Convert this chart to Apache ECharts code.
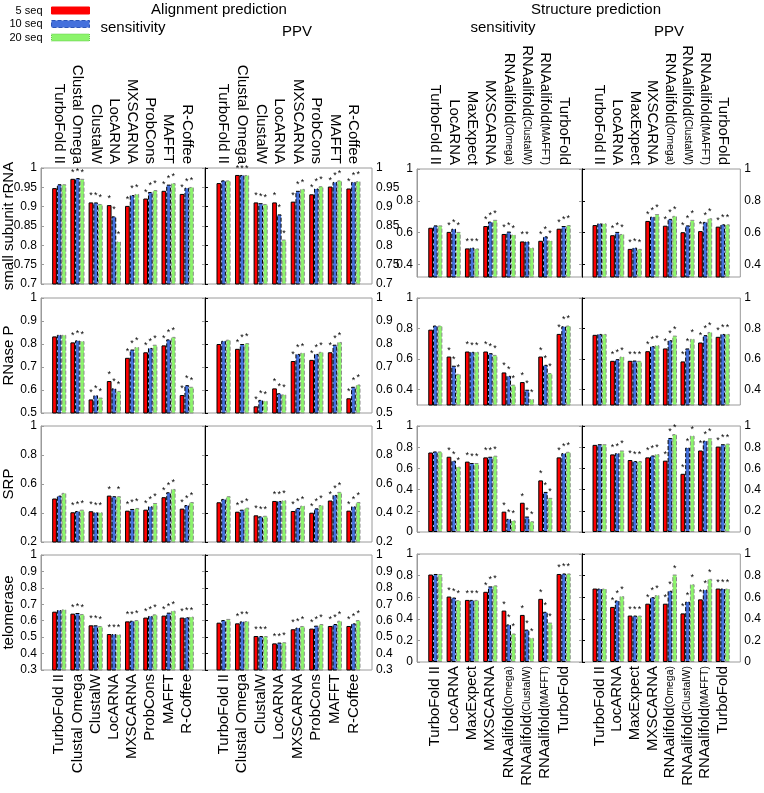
<!DOCTYPE html>
<html><head><meta charset="utf-8">
<script src="https://cdn.jsdelivr.net/npm/echarts@6/dist/echarts.min.js"></script>
<style>html,body{margin:0;padding:0;background:#fff}#c{width:764px;height:793px}</style>
</head><body><div id="c"></div>
<script>
// ---------- categories / labels ----------
const alignCats = ['TurboFold II','Clustal Omega','ClustalW','LocARNA','MXSCARNA','ProbCons','MAFFT','R-Coffee'];
const structCats = ['TurboFold II','LocARNA','MaxExpect','MXSCARNA','RNAalifold(Omega)','RNAalifold(ClustalW)','RNAalifold(MAFFT)','TurboFold'];
const rowNames = ['small subunit rRNA','RNase P','SRP','telomerase'];
const seqNames = ['5 seq','10 seq','20 seq'];

// ---------- Alignment prediction: sensitivity ----------
const alnSens_ssu_5  = [0.948,0.972,0.911,0.904,0.902,0.921,0.941,0.933];
const alnSens_ssu_10 = [0.958,0.974,0.911,0.875,0.930,0.938,0.957,0.949];
const alnSens_ssu_20 = [0.958,0.972,0.907,0.810,0.933,0.943,0.961,0.951];
const alnSens_rnp_5  = [0.833,0.807,0.559,0.639,0.740,0.764,0.794,0.578];
const alnSens_rnp_10 = [0.840,0.816,0.577,0.607,0.776,0.783,0.820,0.621];
const alnSens_rnp_20 = [0.840,0.813,0.567,0.596,0.787,0.797,0.831,0.614];
const alnSens_srp_5  = [0.500,0.405,0.412,0.520,0.416,0.423,0.509,0.430];
const alnSens_srp_10 = [0.520,0.414,0.405,0.516,0.428,0.446,0.543,0.455];
const alnSens_srp_20 = [0.539,0.423,0.405,0.516,0.435,0.469,0.566,0.476];
const alnSens_tel_5  = [0.655,0.643,0.572,0.519,0.596,0.619,0.631,0.619];
const alnSens_tel_10 = [0.665,0.647,0.572,0.519,0.600,0.629,0.649,0.621];
const alnSens_tel_20 = [0.669,0.641,0.568,0.517,0.604,0.639,0.661,0.625];
// ---------- Alignment prediction: PPV ----------
const alnPPV_ssu_5  = [0.961,0.982,0.911,0.911,0.913,0.932,0.952,0.947];
const alnPPV_ssu_10 = [0.968,0.982,0.909,0.880,0.941,0.947,0.964,0.964];
const alnPPV_ssu_20 = [0.968,0.982,0.907,0.815,0.946,0.953,0.968,0.966];
const alnPPV_rnp_5  = [0.800,0.779,0.529,0.607,0.726,0.731,0.764,0.564];
const alnPPV_rnp_10 = [0.814,0.800,0.557,0.586,0.757,0.757,0.797,0.614];
const alnPPV_rnp_20 = [0.819,0.804,0.553,0.581,0.762,0.766,0.809,0.624];
const alnPPV_srp_5  = [0.474,0.409,0.384,0.483,0.414,0.402,0.486,0.416];
const alnPPV_srp_10 = [0.497,0.423,0.377,0.483,0.435,0.432,0.525,0.446];
const alnPPV_srp_20 = [0.516,0.437,0.381,0.488,0.451,0.455,0.546,0.476];
const alnPPV_tel_5  = [0.588,0.584,0.507,0.462,0.548,0.552,0.568,0.568];
const alnPPV_tel_10 = [0.604,0.596,0.507,0.467,0.558,0.570,0.580,0.584];
const alnPPV_tel_20 = [0.611,0.598,0.507,0.469,0.568,0.580,0.600,0.604];
// ---------- Structure prediction: sensitivity ----------
const strSens_ssu_5  = [0.630,0.604,0.500,0.641,0.591,0.544,0.548,0.624];
const strSens_ssu_10 = [0.645,0.624,0.505,0.669,0.606,0.544,0.576,0.641];
const strSens_ssu_20 = [0.645,0.604,0.500,0.680,0.587,0.505,0.550,0.647];
const strSens_rnp_5  = [0.793,0.617,0.650,0.650,0.513,0.450,0.617,0.765];
const strSens_rnp_10 = [0.820,0.557,0.648,0.639,0.491,0.400,0.563,0.815];
const strSens_rnp_20 = [0.820,0.504,0.648,0.628,0.433,0.339,0.509,0.820];
const strSens_srp_5  = [0.750,0.710,0.664,0.704,0.192,0.276,0.487,0.704];
const strSens_srp_10 = [0.760,0.673,0.651,0.710,0.124,0.146,0.378,0.744];
const strSens_srp_20 = [0.760,0.617,0.651,0.720,0.109,0.102,0.322,0.757];
const strSens_tel_5  = [0.810,0.606,0.575,0.650,0.476,0.436,0.585,0.815];
const strSens_tel_10 = [0.815,0.597,0.575,0.700,0.348,0.300,0.465,0.820];
const strSens_tel_20 = [0.815,0.573,0.575,0.710,0.264,0.224,0.365,0.820];
// ---------- Structure prediction: PPV ----------
const strPPV_ssu_5  = [0.647,0.583,0.497,0.673,0.643,0.602,0.609,0.637];
const strPPV_ssu_10 = [0.658,0.604,0.505,0.700,0.686,0.645,0.667,0.652];
const strPPV_ssu_20 = [0.658,0.591,0.497,0.716,0.705,0.680,0.690,0.652];
const strPPV_rnp_5  = [0.759,0.589,0.589,0.652,0.670,0.585,0.709,0.746];
const strPPV_rnp_10 = [0.765,0.600,0.591,0.685,0.724,0.670,0.757,0.765];
const strPPV_rnp_20 = [0.765,0.617,0.589,0.691,0.754,0.733,0.778,0.765];
const strPPV_srp_5  = [0.822,0.732,0.679,0.704,0.673,0.549,0.769,0.806];
const strPPV_srp_10 = [0.828,0.744,0.670,0.722,0.887,0.797,0.862,0.828];
const strPPV_srp_20 = [0.828,0.769,0.670,0.735,0.924,0.909,0.884,0.834];
const strPPV_tel_5  = [0.680,0.510,0.430,0.540,0.540,0.450,0.580,0.680];
const strPPV_tel_10 = [0.680,0.570,0.430,0.600,0.660,0.560,0.670,0.680];
const strPPV_tel_20 = [0.680,0.610,0.430,0.620,0.810,0.720,0.770,0.680];

// ---------- significance stars (per category: 5/10/20 seq) ----------
const starsAln = ['000','111','111','111','111','111','111','111'];
const starsAlnSrpSens = ['000','111','111','101','111','111','111','111'];
const starsStrSsuSens = ['000','111','111','111','111','110','111','111'];
const starsStrSsuPPV  = ['000','111','111','111','111','111','111','111'];
const starsStr = ['000','111','111','111','111','111','111','111'];

// ---------- assemble ----------
const panels = [
  {b:0,p:0,r:0,d:[alnSens_ssu_5,alnSens_ssu_10,alnSens_ssu_20],s:starsAln},
  {b:0,p:1,r:0,d:[alnPPV_ssu_5,alnPPV_ssu_10,alnPPV_ssu_20],s:starsAln},
  {b:0,p:0,r:1,d:[alnSens_rnp_5,alnSens_rnp_10,alnSens_rnp_20],s:starsAln},
  {b:0,p:1,r:1,d:[alnPPV_rnp_5,alnPPV_rnp_10,alnPPV_rnp_20],s:starsAln},
  {b:0,p:0,r:2,d:[alnSens_srp_5,alnSens_srp_10,alnSens_srp_20],s:starsAlnSrpSens},
  {b:0,p:1,r:2,d:[alnPPV_srp_5,alnPPV_srp_10,alnPPV_srp_20],s:starsAln},
  {b:0,p:0,r:3,d:[alnSens_tel_5,alnSens_tel_10,alnSens_tel_20],s:starsAln},
  {b:0,p:1,r:3,d:[alnPPV_tel_5,alnPPV_tel_10,alnPPV_tel_20],s:starsAln},
  {b:1,p:0,r:0,d:[strSens_ssu_5,strSens_ssu_10,strSens_ssu_20],s:starsStrSsuSens},
  {b:1,p:1,r:0,d:[strPPV_ssu_5,strPPV_ssu_10,strPPV_ssu_20],s:starsStrSsuPPV},
  {b:1,p:0,r:1,d:[strSens_rnp_5,strSens_rnp_10,strSens_rnp_20],s:starsStr},
  {b:1,p:1,r:1,d:[strPPV_rnp_5,strPPV_rnp_10,strPPV_rnp_20],s:starsStr},
  {b:1,p:0,r:2,d:[strSens_srp_5,strSens_srp_10,strSens_srp_20],s:starsStr},
  {b:1,p:1,r:2,d:[strPPV_srp_5,strPPV_srp_10,strPPV_srp_20],s:starsStr},
  {b:1,p:0,r:3,d:[strSens_tel_5,strSens_tel_10,strSens_tel_20],s:starsStr},
  {b:1,p:1,r:3,d:[strPPV_tel_5,strPPV_tel_10,strPPV_tel_20],s:starsStr}
];

const colX = [[[41,205],[205,372]],[[417,582],[582,746]]];
const rowY = [[[168,284],[298,413],[426,542],[555,670]],[[169,277],[298,405],[426,532],[554,662]]];
const yCfg = [
  [{min:0.7,max:1,interval:0.05},{min:0.5,max:1,interval:0.1},{min:0.2,max:1,interval:0.2},{min:0.3,max:1,interval:0.1}],
  [{min:0.32,max:1,cv:[0.4,0.6,0.8,1]},{min:0.3,max:1,cv:[0.4,0.6,0.8,1]},{min:0,max:1,interval:0.2},{min:0,max:1,interval:0.2}]
];
const FONT = 'Liberation Sans, Arial, sans-serif';
const colors = ['#ff0000','#4470dc','#8cf46c'];
const borders = [['#000','solid'],['#000','dashed'],['#8a8a8a','dashed']];
const legendBorders = [['#ff0000','solid'],['#2d55b8','dashed'],['#63c94a','dotted']];

const grid=[], xAxis=[], yAxis=[], series=[];
function catFmt(v){
  const m = v.match(/^(.*?)(\(.*\))$/);
  return m ? m[1] + '{s|' + m[2] + '}' : v;
}
panels.forEach((P,gi)=>{
  const [x0,x1] = colX[P.b][P.p];
  const [y0,y1] = rowY[P.b][P.r];
  const cats = P.b===0?alignCats:structCats;
  grid.push({left:x0,top:y0,width:x1-x0,height:y1-y0,show:true,borderColor:'#9a9a9a',borderWidth:1,backgroundColor:'#fff'});
  const showCat = (P.r===0 || P.r===3);
  xAxis.push({type:'value',gridIndex:gi,min:0,max:9,interval:1,
    position:P.r===0?'top':'bottom',splitLine:{show:false},
    axisLine:{show:false},axisTick:{show:false},
    axisLabel:{show:showCat,rotate:90,margin:4,fontSize:15,color:'#000',fontFamily:FONT,
      formatter:(v)=>cats[v-1]?catFmt(cats[v-1]):'',
      rich:{s:{fontSize:10.5,fontFamily:FONT,color:'#000'}}}});
  const yc = yCfg[P.b][P.r];
  const base = {type:'value',gridIndex:gi,min:yc.min,max:yc.max,splitLine:{show:false}};
  if (yc.interval) base.interval = yc.interval;
  const outer = Object.assign({},base,{position:P.p===0?'left':'right',
    axisLine:{show:true,lineStyle:{color:'#9a9a9a',width:1}},
    axisTick:{show:true,inside:true,length:3,lineStyle:{color:'#9a9a9a'}},
    axisLabel:{show:true,fontSize:12,color:'#000',fontFamily:FONT,margin:4}});
  const inner = Object.assign({},base,{position:P.p===0?'right':'left',
    axisLine:{show:true,lineStyle:{color:'#000',width:1}},
    axisTick:{show:true,inside:true,length:3,lineStyle:{color:'#000'}},
    axisLabel:{show:false}});
  if (yc.cv){
    outer.axisLabel.customValues = yc.cv; outer.axisTick.customValues = yc.cv;
    inner.axisTick.customValues = yc.cv; inner.axisLabel.customValues = yc.cv;
  }
  const yi = yAxis.length;
  yAxis.push(outer); yAxis.push(inner);
  for (let k=0;k<3;k++){
    const stars = P.s;
    series.push({type:'bar',name:seqNames[k],xAxisIndex:gi,yAxisIndex:yi,
      data:P.d[k].map((v,i)=>[i+1,v]),
      barWidth:4.7,barGap:'0%',
      itemStyle:{color:colors[k],borderColor:borders[k][0],borderType:borders[k][1],borderWidth:1},
      label:{show:true,position:'top',distance:2,fontSize:9,color:'#000',fontFamily:FONT,
        formatter:(p)=>stars[p.dataIndex][k]==='1'?'*':''},
      animation:false,silent:true});
  }
});

const titleStyle = {fontSize:15,fontWeight:'normal',color:'#000',fontFamily:FONT};
const title = [
  {text:'Alignment prediction',left:214,top:-3,textAlign:'center',textStyle:titleStyle},
  {text:'sensitivity',left:128,top:15,textAlign:'center',textStyle:titleStyle},
  {text:'PPV',left:292,top:19,textAlign:'center',textStyle:titleStyle},
  {text:'Structure prediction',left:591,top:-3,textAlign:'center',textStyle:titleStyle},
  {text:'sensitivity',left:498,top:15,textAlign:'center',textStyle:titleStyle},
  {text:'PPV',left:664,top:19,textAlign:'center',textStyle:titleStyle}
];
const legend = seqNames.map((n,i)=>({data:[n],right:764-90,top:5+i*13.5,align:'right',icon:'rect',
  itemWidth:38,itemHeight:7,itemGap:0,padding:0,
  itemStyle:{color:colors[i],borderColor:legendBorders[i][0],borderType:legendBorders[i][1],borderWidth:1},
  textStyle:{fontSize:11,color:'#000',fontFamily:FONT,padding:[0,4,0,0]},
  selectedMode:false}));
const rowMid = rowY[0].map(r=>(r[0]+r[1])/2);
const graphic = rowNames.map((t,i)=>({type:'text',x:9,y:rowMid[i],rotation:Math.PI/2,
  style:{text:t,fontSize:15,fontFamily:FONT,fill:'#000',textAlign:'center',textVerticalAlign:'middle'}}));

const chart = echarts.init(document.getElementById('c'),null,{renderer:'canvas'});
chart.setOption({animation:false,title,legend,graphic,grid,xAxis,yAxis,series});
</script></body></html>
